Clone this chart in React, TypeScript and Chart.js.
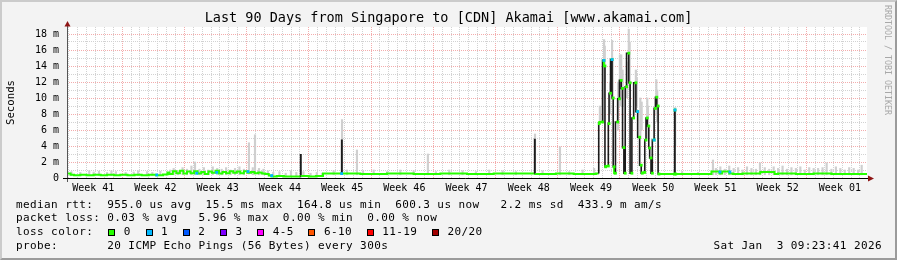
import React, { useEffect, useRef } from "react";
import { Chart, registerables } from "chart.js";

Chart.register(...registerables);

const MONO = "'DejaVu Sans Mono', monospace";
const GREEN = "#26ff00";
const CYAN = "#00b8ff";
const GRID = "#d2d2d2";
const MGRID = "#f3acac";

const TITLE = "Last 90 Days from Singapore to [CDN] Akamai [www.akamai.com]";
const weekLabels = [
  "Week 41", "Week 42", "Week 43", "Week 44", "Week 45", "Week 46", "Week 47",
  "Week 48", "Week 49", "Week 50", "Week 51", "Week 52", "Week 01",
];
const yTickValues = [0, 1, 2, 3, 4, 5, 6, 7, 8, 9, 10, 11, 12, 13, 14, 15, 16, 17, 18];

// median RTT: [day since graph start, ms]
const median: [number, number][] = [
  [0, 0.5], [0.4, 0.55], [0.8, 0.4], [1.5, 0.35], [2.2, 0.4], [3.0, 0.35], [3.8, 0.4],
  [4.5, 0.35], [5.3, 0.4], [6.0, 0.35], [6.8, 0.4], [7.6, 0.35], [8.4, 0.4], [9.2, 0.35],
  [10.0, 0.4], [10.8, 0.35], [11.3, 0.45],
  [11.5, 0.7], [11.9, 0.5], [12.3, 0.85], [12.7, 0.6], [13.1, 0.9], [13.5, 0.55], [13.9, 0.8],
  [14.3, 0.6], [14.7, 0.85], [15.1, 0.55], [15.5, 0.75], [15.9, 0.5], [16.3, 0.8], [16.7, 0.65],
  [17.1, 0.9], [17.5, 0.55], [17.9, 0.75], [18.3, 0.6], [18.7, 0.85], [19.1, 0.65], [19.5, 0.8],
  [19.9, 0.6], [20.3, 0.85], [20.7, 0.65], [21.1, 0.75], [21.5, 0.6], [21.9, 0.7], [22.3, 0.55],
  [22.7, 0.5], [23.0, 0.3],
  [23.6, 0.2], [24.4, 0.25], [25.2, 0.2], [26.0, 0.2], [26.28, 0.2], [26.32, 2.9], [26.38, 0.2],
  [27.2, 0.25], [28.0, 0.2], [28.8, 0.25], [29.3, 0.55],
  [30.0, 0.55], [30.9, 0.55], [30.94, 4.7], [31.0, 0.55], [33.0, 0.55], [36.0, 0.5], [39.0, 0.55],
  [42.0, 0.5], [45.0, 0.55], [48.0, 0.5], [51.0, 0.55], [52.61, 0.55], [52.65, 4.8], [52.71, 0.55],
  [55.0, 0.5], [57.0, 0.55], [59.5, 0.5],
  [59.82, 0.55], [59.88, 6.8], [60.25, 7.0], [60.4, 14.7], [60.52, 14.0], [60.6, 1.4], [60.9, 1.5],
  [60.98, 6.8], [61.15, 10.6], [61.32, 14.8], [61.45, 10.0], [61.55, 1.4], [61.7, 0.6], [61.95, 7.0],
  [62.15, 9.9], [62.35, 12.2], [62.5, 11.2], [62.65, 3.8], [62.8, 0.6], [62.95, 11.4], [63.2, 15.6],
  [63.35, 11.9], [63.55, 0.6], [63.75, 7.5], [64.0, 11.9], [64.2, 8.3], [64.42, 5.1], [64.6, 1.6],
  [64.72, 0.6], [65.0, 0.7], [65.14, 4.75], [65.28, 7.5], [65.45, 6.5], [65.55, 3.75], [65.7, 2.5],
  [65.85, 0.6], [66.05, 4.75], [66.2, 8.7], [66.35, 10.1], [66.5, 9.0], [66.6, 0.5],
  [68.36, 0.5], [68.4, 8.5], [68.48, 0.5],
  [69.5, 0.5], [71.0, 0.5], [72.5, 0.5], [73.4, 0.8], [73.7, 0.55], [74.5, 0.8], [74.9, 0.55],
  [76.0, 0.5], [78.0, 0.55], [79.6, 0.75], [80.0, 0.5], [82.0, 0.55], [84.0, 0.5], [86.0, 0.55],
  [88.0, 0.5], [90.0, 0.5],
];

// median samples with 1/20 loss: [day, ms]
const loss1: [number, number][] = [
  [10.1, 0.38], [14.6, 0.6], [16.84, 0.7], [20.36, 0.8], [23.03, 0.3], [30.9, 0.55],
  [60.4, 14.7], [61.32, 14.8], [64.2, 8.3], [66.05, 4.75], [68.4, 8.5], [73.46, 0.75], [74.58, 0.75],
];

// smoke (ping spread): [day, low ms, high ms]
const smoke: [number, number, number][] = [
  [0.5, 0.3, 0.8], [1.5, 0.3, 0.7], [2.5, 0.3, 0.9], [3.0, 0.3, 0.75], [3.6, 0.3, 0.85], [4.5, 0.3, 0.7],
  [5.0, 0.3, 0.9], [5.5, 0.3, 0.8], [6.6, 0.3, 0.7], [7.5, 0.3, 0.75], [8.0, 0.3, 0.9], [9.0, 0.3, 0.8],
  [9.6, 0.3, 0.7], [10.5, 0.3, 0.85],
  [11.6, 0.4, 1.0], [12.0, 0.4, 1.2], [12.5, 0.4, 0.9], [13.0, 0.4, 1.3], [13.5, 0.4, 1.1], [14.0, 0.4, 1.5],
  [14.4, 0.4, 2.0], [14.9, 0.4, 1.1], [15.4, 0.4, 1.3], [15.9, 0.4, 1.0], [16.4, 0.4, 1.4], [16.9, 0.4, 1.2],
  [17.4, 0.4, 1.1], [17.9, 0.4, 1.3], [18.4, 0.4, 1.0], [18.9, 0.4, 1.2], [19.4, 0.4, 1.4], [19.9, 0.4, 1.1],
  [20.47, 0.5, 4.4], [20.9, 0.4, 1.3], [21.15, 0.5, 5.4], [21.6, 0.4, 1.2], [22.1, 0.4, 1.1], [22.6, 0.4, 0.9],
  [23.2, 0.15, 0.7], [23.9, 0.15, 0.8], [24.6, 0.15, 0.6], [25.2, 0.15, 0.9], [25.8, 0.15, 0.7],
  [26.6, 0.15, 0.8], [27.4, 0.15, 0.6], [28.1, 0.15, 0.7], [28.7, 0.15, 0.6],
  [30.0, 0.4, 0.9], [30.94, 0.5, 7.3], [31.5, 0.4, 1.0], [32.62, 0.4, 3.5], [33.3, 0.4, 0.9], [34.5, 0.4, 1.0],
  [36.0, 0.4, 0.8], [37.5, 0.4, 1.0], [39.0, 0.4, 0.9], [40.6, 0.4, 3.0], [41.5, 0.4, 0.8], [43.0, 0.4, 1.0],
  [44.5, 0.4, 0.9], [46.0, 0.4, 0.8], [47.5, 0.4, 1.0], [49.0, 0.4, 0.9], [50.5, 0.4, 0.8], [52.65, 0.5, 5.5],
  [53.5, 0.4, 0.9], [55.46, 0.4, 3.9], [56.5, 0.4, 0.8], [58.0, 0.4, 1.0], [59.3, 0.4, 1.2],
  [59.95, 6.8, 9.0], [60.3, 7.0, 13.0], [60.42, 10, 17.3], [60.5, 12, 16.5], [61.1, 8, 12.0],
  [61.32, 11, 17.2], [61.4, 10, 15.0], [62.0, 6, 12.0], [62.2, 9, 15.4], [62.35, 10, 15.4],
  [62.5, 9, 13.5], [63.0, 10, 14.5], [63.2, 13, 18.6], [63.3, 11, 17.0], [64.0, 10, 13.5],
  [64.1, 9, 12.5], [64.5, 5, 10.0], [64.65, 6, 9.5], [65.28, 6, 10.0], [65.35, 5, 9.0],
  [66.3, 8, 12.3], [66.4, 7, 11.0], [68.42, 4, 8.8],
  [69.2, 0.4, 0.8], [71.0, 0.4, 0.7], [72.67, 0.4, 2.25], [73.0, 0.4, 1.2], [73.5, 0.4, 1.4], [74.0, 0.4, 1.1],
  [74.5, 0.4, 1.5], [75.0, 0.4, 1.2], [75.5, 0.4, 1.3], [76.0, 0.4, 1.0], [76.5, 0.4, 1.4], [77.0, 0.4, 1.2],
  [77.5, 0.4, 1.1], [77.96, 0.4, 1.9], [78.5, 0.4, 1.3], [79.0, 0.4, 1.1], [79.5, 0.4, 1.4], [80.0, 0.4, 1.2],
  [80.5, 0.4, 1.5], [81.0, 0.4, 1.1], [81.5, 0.4, 1.3], [82.0, 0.4, 1.2], [82.5, 0.4, 1.4], [83.0, 0.4, 1.0],
  [83.5, 0.4, 1.3], [84.0, 0.4, 1.2], [84.5, 0.4, 1.2], [85.0, 0.4, 1.3], [85.46, 0.4, 1.9], [86.0, 0.4, 1.1],
  [86.5, 0.4, 1.4], [87.0, 0.4, 1.2], [87.5, 0.4, 1.0], [88.0, 0.4, 1.3], [88.5, 0.4, 1.2], [89.0, 0.4, 1.0],
  [89.4, 0.4, 1.6],
];

const lossColors: [string, string][] = [
  ["0", "#26ff00"], ["1", "#00b8ff"], ["2", "#0059ff"], ["3", "#7e00ff"],
  ["4-5", "#ff00ff"], ["6-10", "#ff5500"], ["11-19", "#ff0000"], ["20/20", "#a10000"],
];

const legendLine1 = "median rtt:  955.0 us avg  15.5 ms max  164.8 us min  600.3 us now   2.2 ms sd  433.9 m am/s";
const legendLine2 = "packet loss: 0.03 % avg   5.96 % max  0.00 % min  0.00 % now";
const legendLine4 = "probe:       20 ICMP Echo Pings (56 Bytes) every 300s";
const dateText = "Sat Jan  3 09:23:41 2026";

// x ticks every half day: even index = day grid line, week labels at week centres
const xTickValues = Array.from({ length: 180 }, (_, k) => 0.45 + 0.5 * k);

const framePlugin = {
  id: "frame",
  beforeDraw(chart: any) {
    const { ctx, chartArea: a } = chart;
    ctx.save();
    ctx.fillStyle = "#ffffff";
    ctx.fillRect(a.left, a.top, a.right - a.left, a.bottom - a.top);
    ctx.restore();
  },
  afterDatasetsDraw(chart: any) {
    const { ctx, chartArea: a } = chart;
    const L = Math.round(a.left) + 0.5;
    const B = Math.round(a.bottom) + 0.5;
    ctx.save();
    ctx.lineWidth = 1;
    ctx.strokeStyle = "#555555";
    ctx.beginPath();
    ctx.moveTo(L, a.bottom + 4);
    ctx.lineTo(L, a.top - 1);
    ctx.stroke();
    ctx.strokeStyle = "#000000";
    ctx.beginPath();
    ctx.moveTo(a.left - 4, B);
    ctx.lineTo(a.right + 1, B);
    ctx.stroke();
    ctx.fillStyle = "#8e1414";
    ctx.beginPath();
    ctx.moveTo(L, a.top - 6);
    ctx.lineTo(L - 3, a.top - 0.5);
    ctx.lineTo(L + 3, a.top - 0.5);
    ctx.closePath();
    ctx.fill();
    ctx.beginPath();
    ctx.moveTo(a.right + 7, B);
    ctx.lineTo(a.right + 1, B - 3);
    ctx.lineTo(a.right + 1, B + 3);
    ctx.closePath();
    ctx.fill();
    ctx.restore();
  },
};

export default function App() {
  const ref = useRef<HTMLCanvasElement>(null);

  useEffect(() => {
    const inSpike = (x: number) => x >= 59.85 && x <= 68.5;
    const chart = new Chart(ref.current as HTMLCanvasElement, {
      type: "line",
      data: {
        datasets: [
          {
            type: "line",
            label: "loss 1",
            data: loss1.map(([x, y]) => ({ x, y })),
            showLine: false,
            pointStyle: "rect",
            pointRadius: 2,
            pointBorderWidth: 0,
            pointBackgroundColor: CYAN,
            order: 0,
          },
          {
            type: "line",
            label: "median",
            data: median.map(([x, y]) => ({ x, y })),
            borderColor: GREEN,
            borderWidth: 2,
            tension: 0,
            stepped: "after",
            segment: {
              borderColor: (c: any) => (Math.abs(c.p1.parsed.y - c.p0.parsed.y) > 0.8 ? "#1c1c1c" : GREEN),
              borderWidth: (c: any) => (Math.abs(c.p1.parsed.y - c.p0.parsed.y) > 0.8 ? 1.6 : 2),
            },
            pointStyle: "rect",
            pointRadius: (c: any) => (c.raw && inSpike(c.raw.x) ? 2 : 0),
            pointBorderWidth: 0,
            pointBackgroundColor: GREEN,
            order: 1,
          },
          {
            type: "bar",
            label: "smoke",
            data: smoke.map(([x, lo, hi]) => ({ x, y: [lo, hi] })),
            backgroundColor: "#cfcfcf",
            borderWidth: 0,
            barThickness: 1.5,
            grouped: false,
            order: 2,
          },
        ] as any,
      },
      options: {
        animation: false,
        responsive: false,
        devicePixelRatio: 1,
        events: [],
        layout: { padding: 0 },
        plugins: {
          legend: { display: false },
          tooltip: { enabled: false },
          title: {
            display: true,
            text: TITLE,
            color: "#000000",
            font: { family: MONO, size: 13.5, weight: "normal", lineHeight: 1.2 },
            padding: { top: 10.6, bottom: 0.2 },
          },
        },
        scales: {
          x: {
            type: "linear",
            min: 0,
            max: 90,
            offset: false,
            afterBuildTicks: (s: any) => {
              s.ticks = xTickValues.map((value) => ({ value }));
            },
            afterFit: (s: any) => {
              s.height = 82;
            },
            ticks: {
              autoSkip: false,
              maxRotation: 0,
              minRotation: 0,
              padding: 4,
              color: "#000000",
              font: { family: MONO, size: 10 },
              callback: (_v: any, i: number) => {
                const j = (i - 5) / 14;
                return Number.isInteger(j) && j >= 0 && j < weekLabels.length ? weekLabels[j] : "";
              },
            },
            grid: {
              drawTicks: false,
              lineWidth: 1,
              color: (c: any) => {
                const k = c.index;
                if (k % 2 === 1) return "rgba(0,0,0,0)";
                if ((k - 12) % 14 === 0) return MGRID;
                return GRID;
              },
            },
            border: { display: false, dash: [1, 1] },
          },
          y: {
            type: "linear",
            min: 0,
            max: 18.875,
            afterBuildTicks: (s: any) => {
              s.ticks = yTickValues.map((value) => ({ value }));
            },
            afterFit: (s: any) => {
              s.width = 67;
            },
            ticks: {
              autoSkip: false,
              padding: 8,
              color: "#000000",
              font: { family: MONO, size: 10 },
              callback: (v: any) => (v === 0 ? "0" : v % 2 === 0 ? `${v} m` : ""),
            },
            grid: {
              drawTicks: false,
              lineWidth: 1,
              color: (c: any) => (c.index % 2 === 0 ? MGRID : GRID),
            },
            border: { display: false, dash: [1, 1] },
            title: {
              display: true,
              text: "Seconds",
              color: "#000000",
              font: { family: MONO, size: 10.7 },
              padding: { top: 4.4, bottom: 0 },
            },
          },
          yRight: {
            type: "linear",
            position: "right",
            display: true,
            min: 0,
            max: 1,
            afterFit: (s: any) => {
              s.width = 30;
            },
            ticks: { display: false },
            grid: { display: false },
            border: { display: false },
          },
        },
      } as any,
      plugins: [framePlugin],
    });
    return () => chart.destroy();
  }, []);

  const lineStyle: React.CSSProperties = {
    position: "absolute",
    left: 16,
    fontFamily: MONO,
    fontSize: 11,
    letterSpacing: "0.4px",
    lineHeight: "14px",
    height: 14,
    whiteSpace: "pre",
    color: "#000000",
  };

  return (
    <div
      style={{
        position: "fixed",
        left: 0,
        top: 0,
        width: 897,
        height: 260,
        background: "#f3f3f3",
        overflow: "hidden",
      }}
    >
      <canvas
        ref={ref}
        width={897}
        height={260}
        style={{ position: "absolute", left: 0, top: 0, width: 897, height: 260 }}
      />
      <div style={{ ...lineStyle, top: 197.7 }}>{legendLine1}</div>
      <div style={{ ...lineStyle, top: 211 }}>{legendLine2}</div>
      <div style={{ ...lineStyle, top: 225.2, display: "flex", alignItems: "center" }}>
        <span style={{ width: 92.3 }}>loss color:</span>
        {lossColors.map(([label, color]) => (
          <React.Fragment key={label}>
            <span
              style={{
                display: "inline-block",
                width: 7,
                height: 7,
                boxSizing: "border-box",
                border: "1px solid #000",
                background: color,
                marginRight: 8.5,
              }}
            />
            <span style={{ marginRight: 14.7 }}>{label}</span>
          </React.Fragment>
        ))}
      </div>
      <div style={{ ...lineStyle, top: 238.7 }}>{legendLine4}</div>
      <div style={{ ...lineStyle, top: 238.7, left: "auto", right: 15 }}>{dateText}</div>
      <div
        style={{
          position: "absolute",
          left: 883,
          top: 5,
          writingMode: "vertical-rl",
          fontFamily: MONO,
          fontSize: 8.3,
          lineHeight: "10px",
          color: "#a8a8a8",
          whiteSpace: "pre",
        }}
      >
        RRDTOOL / TOBI OETIKER
      </div>
      <div
        style={{
          position: "absolute",
          left: 0,
          top: 0,
          width: 897,
          height: 260,
          boxSizing: "border-box",
          borderStyle: "solid",
          borderWidth: 2,
          borderColor: "#cbcbcb #9b9b9b #9b9b9b #cbcbcb",
          pointerEvents: "none",
        }}
      />
    </div>
  );
}
